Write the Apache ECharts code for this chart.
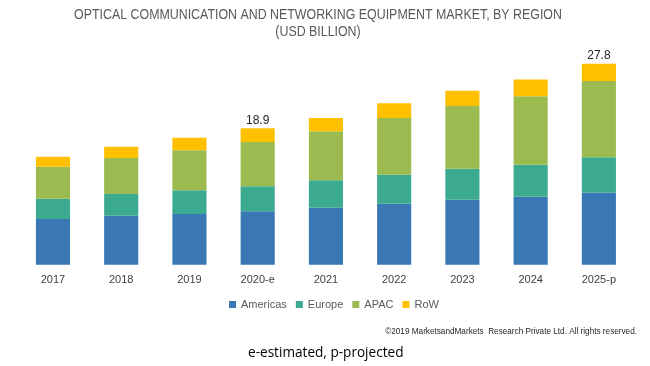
<!DOCTYPE html>
<html>
<head>
<meta charset="utf-8">
<script src="https://cdn.jsdelivr.net/npm/echarts@6/dist/echarts.min.js"></script>
<style>
  html, body { margin: 0; padding: 0; background: #ffffff; }
  #chart { width: 650px; height: 366px; }
</style>
</head>
<body>
<div id="chart"></div>
<script>
var categories = ['2017', '2018', '2019', '2020-e', '2021', '2022', '2023', '2024', '2025-p'];
var americas = [6.32, 6.78, 7.01, 7.39, 7.88, 8.44, 8.99, 9.41, 9.96];
var europe   = [2.81, 3.00, 3.28, 3.46, 3.79, 4.01, 4.29, 4.43, 4.90];
var apac     = [4.43, 4.98, 5.53, 6.13, 6.78, 7.84, 8.67, 9.46, 10.55];
var row      = [1.38, 1.56, 1.74, 1.89, 1.84, 2.03, 2.12, 2.30, 2.39];
var totalLabels = ['', '', '', '18.9', '', '', '', '', '27.8'];
var titleLines = ['OPTICAL COMMUNICATION AND NETWORKING EQUIPMENT MARKET, BY REGION', '(USD BILLION)'];

var chart = echarts.init(document.getElementById('chart'), null, { renderer: 'canvas' });

function seriesOf(name, data, color, withLabel) {
  var s = {
    name: name,
    type: 'bar',
    stack: 'total',
    barWidth: '50%',
    data: data,
    itemStyle: { color: color },
    emphasis: { disabled: true }
  };
  if (withLabel) {
    s.label = {
      show: true,
      position: 'top',
      distance: 2,
      color: '#262626',
      fontSize: 12,
      fontFamily: 'Liberation Sans',
      formatter: function (p) { return totalLabels[p.dataIndex]; }
    };
  }
  return s;
}

chart.setOption({
  animation: false,
  backgroundColor: '#ffffff',
  legend: {
    data: ['Americas', 'Europe', 'APAC', 'RoW'],
    left: 224,
    top: 294,
    icon: 'rect',
    itemWidth: 7,
    itemHeight: 7,
    itemGap: 9,
    textStyle: { fontSize: 11, color: '#595959', fontFamily: 'Liberation Sans' }
  },
  grid: { left: 18.85, right: 17, top: 47.8, bottom: 101.3, containLabel: false },
  xAxis: {
    type: 'category',
    data: categories,
    axisLine: { show: false },
    axisTick: { show: false },
    axisLabel: { color: '#404040', fontSize: 11, fontFamily: 'Liberation Sans', margin: 10 }
  },
  yAxis: {
    type: 'value',
    min: 0,
    max: 30,
    show: false,
    splitLine: { show: false }
  },
  series: [
    seriesOf('Americas', americas, '#3A77B5', false),
    seriesOf('Europe', europe, '#3BAA8F', false),
    seriesOf('APAC', apac, '#9BBB50', false),
    seriesOf('RoW', row, '#FFC000', true)
  ],
  graphic: [
    {
      type: 'text',
      x: 318,
      y: 15,
      scaleX: 0.885,
      style: {
        text: titleLines[0],
        fontSize: 14,
        fontFamily: 'Liberation Sans',
        fill: '#595959',
        align: 'center',
        verticalAlign: 'middle'
      }
    },
    {
      type: 'text',
      x: 318,
      y: 32,
      scaleX: 0.885,
      style: {
        text: titleLines[1],
        fontSize: 14,
        fontFamily: 'Liberation Sans',
        fill: '#595959',
        align: 'center',
        verticalAlign: 'middle'
      }
    },
    {
      type: 'text',
      right: 13,
      top: 328,
      style: {
        text: '©2019 MarketsandMarkets  Research Private Ltd. All rights reserved.',
        fontSize: 8.2,
        fontFamily: 'Liberation Sans',
        fill: '#262626'
      }
    },
    {
      type: 'text',
      left: 248,
      top: 346,
      style: {
        text: 'e-estimated, p-projected',
        fontSize: 13.6,
        fontFamily: 'Open Sans',
        fill: '#000000'
      }
    }
  ]
});
</script>
</body>
</html>
